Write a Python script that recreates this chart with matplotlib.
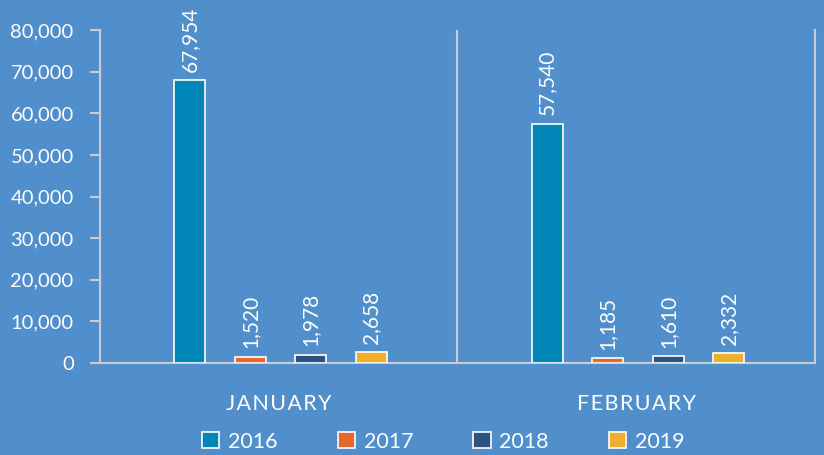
import matplotlib.pyplot as plt
import numpy as np

plt.rcParams['font.family'] = ['Lato', 'DejaVu Sans']

# Data
months = ['JANUARY', 'FEBRUARY']
years = ['2016', '2017', '2018', '2019']
values = {
    '2016': [67954, 57540],
    '2017': [1520, 1185],
    '2018': [1978, 1610],
    '2019': [2658, 2332],
}
colors = ['#0087B8', '#E8682A', '#2D5381', '#F0AE2E']

bg = '#508FCC'
line_col = '#C9CED6'

fig = plt.figure(figsize=(8.24, 4.55), dpi=100, facecolor=bg)
ax = fig.add_axes([0.1214, 0.2022, 0.8676, 0.7318], facecolor=bg)

x = np.arange(len(months))
spacing = 0.169
width = 0.087
for i, (yr, col) in enumerate(zip(years, colors)):
    off = (i - 1.5) * spacing + 0.005
    bars = ax.bar(x + off, values[yr], width, color=col, edgecolor='white',
                  linewidth=1.2, label=yr, zorder=3)
    for b, v in zip(bars, values[yr]):
        ax.annotate(f'{v:,}', (b.get_x() + b.get_width() / 2, v),
                    xytext=(0, 6), textcoords='offset points',
                    rotation=90, ha='center', va='bottom',
                    color='white', fontsize=15)

ax.set_xlim(-0.5, 1.5)
ax.set_ylim(0, 80000)
ax.set_yticks(np.arange(0, 80001, 10000))
ax.set_yticklabels([f'{t:,}' for t in range(0, 80001, 10000)])
ax.set_xticks(x)
# letter-spaced month labels
ax.set_xticklabels(['\u200a'.join(m) for m in months])
ax.set_xticks([0.5], minor=True)
ax.grid(axis='x', which='minor', color=line_col, linewidth=1.5, zorder=1)

ax.tick_params(axis='y', colors=line_col, labelcolor='white', labelsize=14.5,
               length=7, width=1.5, pad=12)
ax.tick_params(axis='x', which='both', length=0, labelcolor='white',
               labelsize=15.5, pad=22)

for s in ['left', 'right', 'bottom']:
    ax.spines[s].set_color(line_col)
    ax.spines[s].set_linewidth(1.5)
ax.spines['top'].set_visible(False)

leg = fig.legend(loc='lower center', bbox_to_anchor=(0.538, -0.035), ncol=4,
                 frameon=False, fontsize=15.5, labelcolor='white',
                 handlelength=0.8, handleheight=0.8, handletextpad=0.4,
                 columnspacing=2.8)

fig.savefig('out.png', dpi=100, facecolor=bg)
